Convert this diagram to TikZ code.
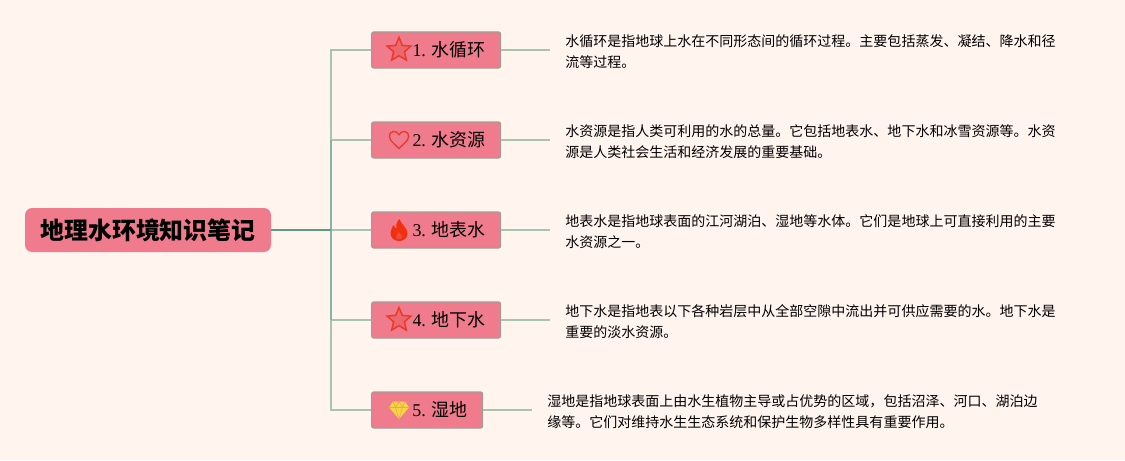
\documentclass[tikz,border=0pt]{standalone}
\usepackage{fontspec}
\setmainfont{Liberation Serif}
\newfontfamily\cjk{Noto Sans CJK SC}
\usepackage{tikz}
\usetikzlibrary{positioning,shapes.geometric,calc}
\usepackage{xcolor}
\definecolor{pagecream}{HTML}{FFF4EE}
\definecolor{boxpink}{HTML}{EF7B8C}
\definecolor{boxedge}{HTML}{A39C96}
\definecolor{trunkgreen}{HTML}{5F9A85}
\definecolor{spinegreen}{HTML}{86B3A6}
\definecolor{twiggreen}{HTML}{A6C4AE}
\definecolor{iconred}{HTML}{EA3A2A}
\definecolor{flamered}{HTML}{F2300F}
\definecolor{gemyellow}{HTML}{F6D63F}

\tikzset{
    rootbox/.style={rectangle, rounded corners=4pt, fill=boxpink, minimum width=4.92cm, minimum height=0.88cm,
        inner sep=0pt, font={\cjk\bfseries\fontsize{13.6}{16}\selectfont}},
    topicbox/.style={rectangle, rounded corners=1.2pt, fill=boxpink, draw=boxedge, line width=0.7pt, anchor=west,
        minimum height=0.72cm, inner sep=0pt, font={\fontsize{10.2}{12}\selectfont}},
    notetext/.style={anchor=west, align=left, inner xsep=0.3cm, inner ysep=0pt,
        font={\cjk\fontsize{7.97}{11.95}\selectfont}},
    twig/.style={draw=twiggreen, line width=0.75pt},
    starmark/.style={star, star points=5, star point ratio=2.2, draw=iconred, fill=boxpink!70!iconred, line width=0.85pt,
        minimum size=0.5cm, inner sep=0pt},
    heartmark/.pic={
        \draw[iconred, line width=0.75pt, line join=round] (0,-0.17) .. controls (-0.1,-0.07) and (-0.19,-0.01) .. (-0.19,0.07)
            .. controls (-0.19,0.2) and (-0.04,0.2) .. (0,0.1)
            .. controls (0.04,0.2) and (0.19,0.2) .. (0.19,0.07)
            .. controls (0.19,-0.01) and (0.1,-0.07) .. (0,-0.17) -- cycle;
    },
    flamemark/.pic={
        \fill[flamered] (0.01,0.22) .. controls (0.03,0.12) and (0.17,0.05) .. (0.17,-0.07)
            .. controls (0.17,-0.16) and (0.09,-0.22) .. (0,-0.22)
            .. controls (-0.1,-0.22) and (-0.17,-0.15) .. (-0.17,-0.06)
            .. controls (-0.17,0.01) and (-0.13,0.05) .. (-0.11,0.1)
            .. controls (-0.09,0.06) and (-0.07,0.04) .. (-0.05,0.03)
            .. controls (-0.07,0.1) and (-0.04,0.18) .. (0.01,0.22) -- cycle;
        \fill[boxpink!35!flamered] (0,-0.04) .. controls (0.03,-0.08) and (0.07,-0.11) .. (0.06,-0.15)
            .. controls (0.04,-0.19) and (-0.04,-0.19) .. (-0.06,-0.15)
            .. controls (-0.07,-0.11) and (-0.03,-0.08) .. (0,-0.04) -- cycle;
    },
    gemmark/.pic={
        \fill[gemyellow] (-0.12,0.17) -- (0.12,0.17) -- (0.2,0.05) -- (0,-0.18) -- (-0.2,0.05) -- cycle;
        \draw[boxpink!60!gemyellow, line width=0.35pt] (-0.2,0.05) -- (0.2,0.05)
            (-0.07,0.05) -- (0,-0.18) -- (0.07,0.05) (-0.12,0.17) -- (-0.07,0.05) -- (0,0.17) -- (0.07,0.05) -- (0.12,0.17);
    },
}
\newcommand{\topiclabel}[2]{\raisebox{-0.6pt}{\hspace{0.52cm}#1 {\cjk #2}}}

\begin{document}
\begin{tikzpicture}
    % Page
    \fill[pagecream] (0,0) rectangle (22.5,9.2);

    % Root and hub
    \node[rootbox] (root) at (2.96, 4.6) {\raisebox{-0.5pt}{地理水环境知识笔记}};
    \coordinate (hub) at (6.62, 4.6);

    % Topics
    \node[topicbox, minimum width=2.58cm] (topicA) at (7.42, 8.2) {\topiclabel{1.}{水循环}};
    \node[topicbox, minimum width=2.58cm] (topicB) at (7.42, 6.4) {\topiclabel{2.}{水资源}};
    \node[topicbox, minimum width=2.58cm] (topicC) at (7.42, 4.6) {\topiclabel{3.}{地表水}};
    \node[topicbox, minimum width=2.58cm] (topicD) at (7.42, 2.8) {\topiclabel{4.}{地下水}};
    \node[topicbox, minimum width=2.22cm] (topicE) at (7.42, 1.0) {\topiclabel{5.}{湿地}};

    % Notes
    \node[notetext] (noteA) at (11.0, 8.17) {水循环是指地球上水在不同形态间的循环过程。主要包括蒸发、凝结、降水和径\\流等过程。};
    \node[notetext] (noteB) at (11.0, 6.37) {水资源是指人类可利用的水的总量。它包括地表水、地下水和冰雪资源等。水资\\源是人类社会生活和经济发展的重要基础。};
    \node[notetext] (noteC) at (11.0, 4.57) {地表水是指地球表面的江河湖泊、湿地等水体。它们是地球上可直接利用的主要\\水资源之一。};
    \node[notetext] (noteD) at (11.0, 2.77) {地下水是指地表以下各种岩层中从全部空隙中流出并可供应需要的水。地下水是\\重要的淡水资源。};
    \node[notetext] (noteE) at (10.64, 0.97) {湿地是指地球表面上由水生植物主导或占优势的区域，包括沼泽、河口、湖泊边\\缘等。它们对维持水生生态系统和保护生物多样性具有重要作用。};

    % Branches
    \draw[twig] (hub) |- (topicA.west);
    \draw[twig] (hub) |- (topicB.west);
    \draw[twig] (hub) -- (topicC.west);
    \draw[twig] (hub) |- (topicD.west);
    \draw[twig] (hub) |- (topicE.west);
    \draw[spinegreen, line width=0.8pt] (hub) -- (hub |- topicB.west);
    \draw[spinegreen, line width=0.8pt] (hub) -- (hub |- topicD.west);
    \draw[trunkgreen, line width=0.9pt] (root.east) -- (hub);
    \foreach \t in {A, B, C, D, E}
        \draw[twig] (topic\t.east) -- (topic\t.east -| note\t.west);

    % Icons
    \node[starmark] (iconA) at ([xshift=0.56cm]topicA.west) {};
    \pic (iconB) at ([xshift=0.56cm]topicB.west) {heartmark};
    \pic (iconC) at ([xshift=0.56cm]topicC.west) {flamemark};
    \node[starmark] (iconD) at ([xshift=0.56cm]topicD.west) {};
    \pic (iconE) at ([xshift=0.56cm]topicE.west) {gemmark};
\end{tikzpicture}
\end{document}
